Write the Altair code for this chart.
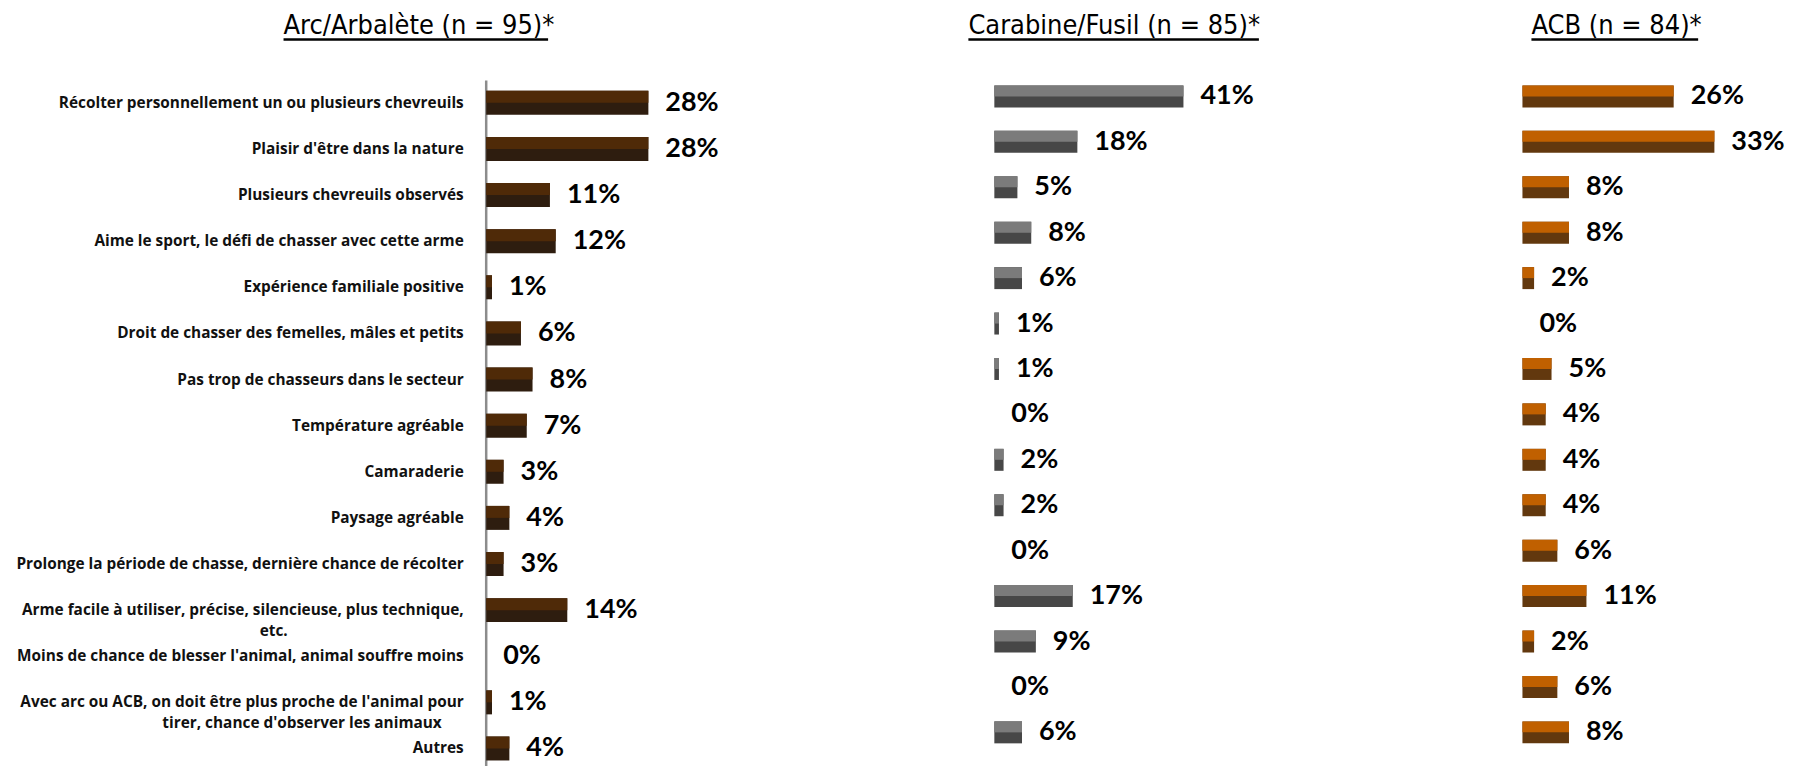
import altair as alt
import pandas as pd

PAD = "\u2800"

categories = [
    "Récolter personnellement un ou plusieurs chevreuils",
    "Plaisir d'être dans la nature",
    "Plusieurs chevreuils observés",
    "Aime le sport, le défi de chasser avec cette arme",
    "Expérience familiale  positive",
    "Droit de chasser des femelles, mâles et petits",
    "Pas trop de chasseurs dans le secteur",
    "Température  agréable",
    "Camaraderie",
    "Paysage  agréable",
    "Prolonge la période de chasse, dernière chance de récolter",
    "Arme facile à utiliser, précise, silencieuse, plus technique,|etc." + PAD * 16,
    "Moins de chance de blesser l'animal,  animal  souffre moins",
    "Avec arc ou ACB, on doit être plus proche de l'animal  pour|tirer, chance d'observer les animaux" + PAD * 2,
    "Autres",
]

arc = [28, 28, 11, 12, 1, 6, 8, 7, 3, 4, 3, 14, 0, 1, 4]
carabine = [41, 18, 5, 8, 6, 1, 1, 0, 2, 2, 0, 17, 9, 0, 6]
acb = [26, 33, 8, 8, 2, 0, 5, 4, 4, 4, 6, 11, 2, 6, 8]

titles = ["Arc/Arbalète (n = 95)*", "Carabine/Fusil (n = 85)*", "ACB (n = 84)*"]

df = pd.DataFrame({"cat": categories, "arc": arc, "carabine": carabine, "acb": acb})
for f in ["arc", "carabine", "acb"]:
    df[f + "_lbl"] = df[f].astype(str) + "%"

one = pd.DataFrame({"u": [0]})

TITLE_FONT = "DejaVu Sans Condensed, Roboto, sans-serif"


def panel(field, title, light, dark, width, height, xmax, bar_size,
          show_axis, title_dx, underline_w, pad_outer, pad_align):
    if show_axis:
        yaxis = alt.Axis(
            title=None, ticks=False, domain=False, labelPadding=23,
            labelFont="Open Sans", labelFontSize=15.4, labelFontWeight="bold",
            labelColor="#111111", labelLimit=700, labelLineHeight=21,
            labelExpr="split(datum.label, '|')",
            minExtent=475, maxExtent=475,
        )
    else:
        yaxis = None
    y = alt.Y("cat:N", sort=categories,
              scale=alt.Scale(paddingInner=0, paddingOuter=pad_outer,
                              align=pad_align),
              axis=yaxis)
    x = alt.X(f"{field}:Q", scale=alt.Scale(domain=[0, xmax], nice=False),
              axis=None)
    base = alt.Chart(df).encode(y=y)
    dark_bar = base.mark_bar(size=bar_size, color=dark).encode(x=x)
    light_bar = base.mark_bar(size=bar_size / 2, yOffset=-bar_size / 4,
                              color=light).encode(x=x)
    labels = base.mark_text(
        align="left", baseline="middle", dx=17, font="Lato", fontSize=27,
        fontWeight="bold", color="black",
    ).encode(x=x, text=alt.Text(f"{field}_lbl:N"))
    underline = alt.Chart(one).mark_rule(color="black", strokeWidth=2.5).encode(
        x=alt.value(title_dx), x2=alt.value(title_dx + underline_w),
        y=alt.value(-31),
    )
    layers = [dark_bar, light_bar, labels, underline]
    if show_axis:
        axis_line = alt.Chart(one).mark_rule(color="#8c8c8c", strokeWidth=2.5).encode(
            x=alt.value(0), y=alt.value(10), y2=alt.value(height),
        )
        layers.insert(0, axis_line)
    return alt.layer(*layers).properties(
        width=width, height=height,
        title=alt.TitleParams(
            title, anchor="start", frame="group", dx=title_dx, offset=-23,
            baseline="alphabetic", font=TITLE_FONT, fontSize=27,
            fontWeight="normal", color="black",
        ),
    )


p1 = panel("arc", titles[0], "#4f2a08", "#2e1d0f", 481, 702.2, 82.9, 24,
           True, -203, 265, 0.1, 1)
p2 = panel("carabine", titles[1], "#7b7b7b", "#474747", 529, 685.7, 114.5, 22,
           False, -26, 291, 0.035, 1)
p3 = panel("acb", titles[2], "#c06000", "#62380e", 268, 685.7, 46.0, 22,
           False, 9, 167, 0.035, 1)

chart = alt.hconcat(p1, p2, p3, spacing=0).properties(
    padding={"top": 3, "left": 0, "right": 0, "bottom": 0}, background="white"
).configure_view(stroke=None)

chart.save("out.html", embed_options={"renderer": "svg", "actions": False})
